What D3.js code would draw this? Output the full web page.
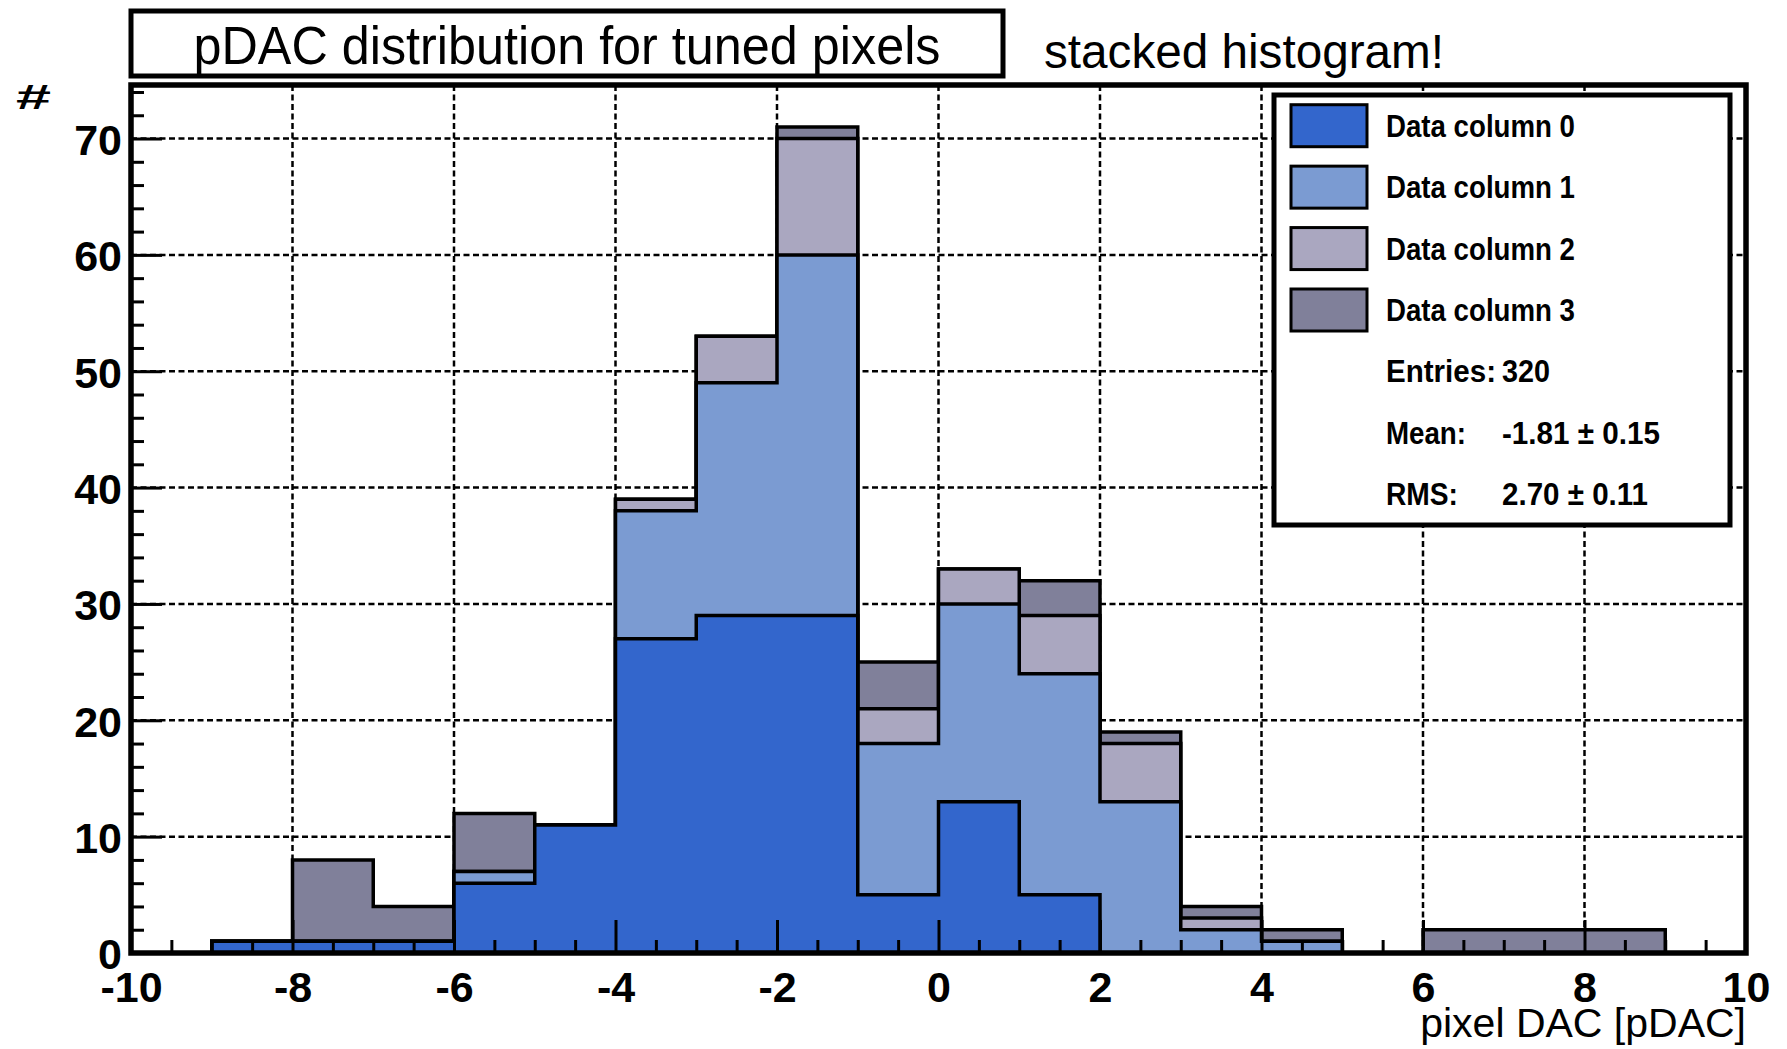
<!DOCTYPE html>
<html>
<head>
<meta charset="utf-8">
<script src="https://cdn.jsdelivr.net/npm/d3@7"></script>
<style>
  body { margin: 0; background: #fff; }
  svg text { font-family: "Liberation Sans", Arial, sans-serif; fill: #000; }
</style>
</head>
<body>
<svg id="chart" width="1787" height="1049"></svg>
<script>
// bins of width 1 from -9 to 9
var binEdges = [-9,-8,-7,-6,-5,-4,-3,-2,-1,0,1,2,3,4,5,6,7,8,9];
var col0 = [1,1,1,6,11,27,29,29,5,13,5,0,0,0,0,0,0,0];
var col1 = [0,0,0,1,0,11,20,31,13,17,19,13,2,1,0,0,0,0];
var col2 = [0,0,0,0,0,1,4,10,3,3,5,5,1,0,0,0,0,0];
var col3 = [0,7,3,5,0,0,0,1,4,0,3,1,1,1,0,2,2,2];

var seriesNames = ["Data column 0", "Data column 1", "Data column 2", "Data column 3"];
var seriesColors = ["#3366cc", "#7b9bd2", "#aaa7c0", "#80809a"];

var statNames = ["Entries:", "Mean:", "RMS:"];
var statValues = ["320", "-1.81 \u00b1 0.15", "2.70 \u00b1 0.11"];

var xTicks = [-10,-8,-6,-4,-2,0,2,4,6,8,10];
var yTicks = [0,10,20,30,40,50,60,70];

var svg = d3.select("#chart");

var x = d3.scaleLinear().domain([-10, 10]).range([131, 1746]);
var y = d3.scaleLinear().domain([0, 74.6]).range([953, 85]);

// grid (dashed, behind the histograms)
var grid = svg.append("g").attr("class", "grid")
  .attr("stroke", "#000").attr("stroke-width", 2.5).attr("stroke-dasharray", "6,3.5");
grid.selectAll("line.gx")
  .data(xTicks.filter(function (d) { return d > -10 && d < 10; }))
  .enter().append("line").attr("class", "gx")
  .attr("x1", function (d) { return x(d); }).attr("x2", function (d) { return x(d); })
  .attr("y1", y.range()[1]).attr("y2", y.range()[0]);
grid.selectAll("line.gy")
  .data(yTicks.filter(function (d) { return d > 0; }))
  .enter().append("line").attr("class", "gy")
  .attr("y1", function (d) { return y(d); }).attr("y2", function (d) { return y(d); })
  .attr("x1", x.range()[0]).attr("x2", x.range()[1]);

// stacked histogram
var rows = col0.map(function (v, i) {
  return { lo: binEdges[i], hi: binEdges[i + 1], c0: col0[i], c1: col1[i], c2: col2[i], c3: col3[i] };
});
var stack = d3.stack().keys(["c0", "c1", "c2", "c3"]);
var layers = stack(rows);

var line = d3.line()
  .x(function (p) { return x(p[0]); })
  .y(function (p) { return y(p[1]); });

function stepPoints(layer) {
  var pts = [[binEdges[0], 0]];
  layer.forEach(function (d) {
    pts.push([d.data.lo, d[1]]);
    pts.push([d.data.hi, d[1]]);
  });
  pts.push([binEdges[binEdges.length - 1], 0]);
  return pts;
}

svg.append("g").attr("class", "hists")
  .selectAll("path")
  .data(layers.slice().reverse())
  .enter().append("path")
  .attr("d", function (layer) { return line(stepPoints(layer)) + "Z"; })
  .attr("fill", function (layer) { return seriesColors[layer.index]; })
  .attr("stroke", "#000")
  .attr("stroke-width", 3.5)
  .attr("stroke-linejoin", "miter");

// axes (ticks point inward)
var yAxis = svg.append("g").attr("class", "y-axis")
  .attr("transform", "translate(" + x.range()[0] + ",0)")
  .call(d3.axisLeft(y).tickValues(yTicks).tickSize(-31).tickSizeOuter(0).tickPadding(9)
    .tickFormat(function (d) { return String(d); }));
var yMinor = svg.append("g")
  .attr("transform", "translate(" + x.range()[0] + ",0)")
  .call(d3.axisLeft(y).tickValues(d3.range(0, 75, 2).filter(function (d) { return d % 10 !== 0; }))
    .tickSize(-13).tickSizeOuter(0).tickFormat(""));

var xAxis = svg.append("g").attr("class", "x-axis")
  .attr("transform", "translate(0," + y.range()[0] + ")")
  .call(d3.axisBottom(x).tickValues(xTicks).tickSize(-33).tickSizeOuter(0).tickPadding(18)
    .tickFormat(function (d) { return String(d); }));
var xMinor = svg.append("g")
  .attr("transform", "translate(0," + y.range()[0] + ")")
  .call(d3.axisBottom(x).tickValues(d3.range(-9.5, 10, 0.5).filter(function (d) { return d % 2 !== 0; }))
    .tickSize(-13).tickSizeOuter(0).tickFormat(""));

svg.selectAll(".domain").remove();
svg.selectAll(".tick line").attr("stroke", "#000").attr("stroke-width", 3);
svg.selectAll(".y-axis .tick text, .x-axis .tick text")
  .attr("font-family", "Liberation Sans, Arial, sans-serif")
  .attr("font-size", 43).attr("font-weight", "bold").attr("fill", "#000");
svg.selectAll(".y-axis .tick text").attr("dy", "0.37em");

// frame
svg.append("rect")
  .attr("x", x.range()[0]).attr("y", y.range()[1])
  .attr("width", x.range()[1] - x.range()[0]).attr("height", y.range()[0] - y.range()[1])
  .attr("fill", "none").attr("stroke", "#000").attr("stroke-width", 5.5);

// axis titles
svg.append("text")
  .attr("x", 1746).attr("y", 1037)
  .attr("text-anchor", "end")
  .attr("font-size", 41)
  .text("pixel DAC [pDAC]");

svg.append("text")
  .attr("x", 16).attr("y", 109)
  .attr("font-size", 35).attr("font-weight", "bold")
  .attr("textLength", 35).attr("lengthAdjust", "spacingAndGlyphs")
  .text("#");

// title box
svg.append("rect")
  .attr("x", 131).attr("y", 11).attr("width", 872).attr("height", 65)
  .attr("fill", "#fff").attr("stroke", "#000").attr("stroke-width", 5);
svg.append("text")
  .attr("x", 567).attr("y", 64)
  .attr("text-anchor", "middle")
  .attr("font-size", 53)
  .attr("textLength", 747).attr("lengthAdjust", "spacingAndGlyphs")
  .text("pDAC distribution for tuned pixels");

svg.append("text")
  .attr("x", 1044).attr("y", 68)
  .attr("font-size", 48)
  .attr("textLength", 400).attr("lengthAdjust", "spacingAndGlyphs")
  .text("stacked histogram!");

// legend with statistics
var legX = 1274, legY = 95, legW = 456, legH = 430;
var rowH = legH / 7;
var legend = svg.append("g").attr("class", "legend");
legend.append("rect")
  .attr("x", legX).attr("y", legY).attr("width", legW).attr("height", legH)
  .attr("fill", "#fff").attr("stroke", "#000").attr("stroke-width", 5);

var entry = legend.selectAll("g.entry")
  .data(seriesNames)
  .enter().append("g").attr("class", "entry")
  .attr("transform", function (d, i) { return "translate(0," + (legY + rowH * (i + 0.5)) + ")"; });
entry.append("rect")
  .attr("x", 1291).attr("y", -21).attr("width", 76).attr("height", 42)
  .attr("fill", function (d, i) { return seriesColors[i]; })
  .attr("stroke", "#000").attr("stroke-width", 3);
entry.append("text")
  .attr("x", 1386).attr("y", 11)
  .attr("font-size", 31).attr("font-weight", "bold")
  .attr("textLength", 189).attr("lengthAdjust", "spacingAndGlyphs")
  .text(function (d) { return d; });

var stat = legend.selectAll("g.stat")
  .data(statNames)
  .enter().append("g").attr("class", "stat")
  .attr("transform", function (d, i) { return "translate(0," + (legY + rowH * (i + 4.5)) + ")"; });
stat.append("text")
  .attr("x", 1386).attr("y", 11)
  .attr("font-size", 31).attr("font-weight", "bold")
  .attr("textLength", function (d, i) { return [110, 80, 72][i]; })
  .attr("lengthAdjust", "spacingAndGlyphs")
  .text(function (d) { return d; });
stat.append("text")
  .attr("x", 1502).attr("y", 11)
  .attr("font-size", 31).attr("font-weight", "bold")
  .attr("textLength", function (d, i) { return [48, 158, 146][i]; })
  .attr("lengthAdjust", "spacingAndGlyphs")
  .text(function (d, i) { return statValues[i]; });
</script>
</body>
</html>
